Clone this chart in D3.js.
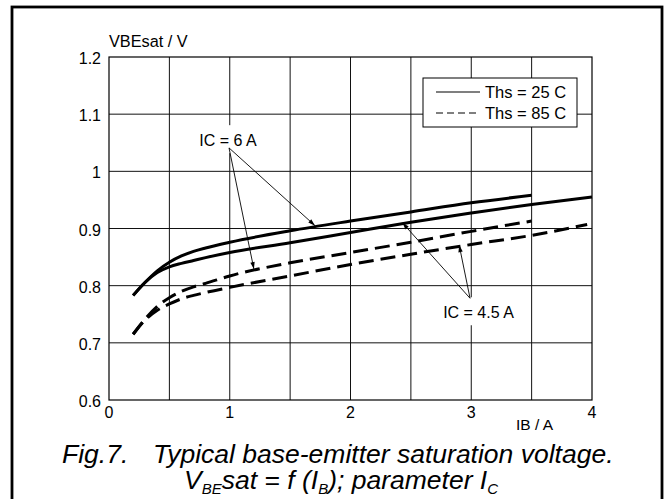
<!DOCTYPE html>
<html><head><meta charset="utf-8">
<script src="https://cdn.jsdelivr.net/npm/d3@7"></script>
<style>
html,body{margin:0;padding:0;background:#fff;}
svg text{font-family:"Liberation Sans",Arial,sans-serif;fill:#000;}
</style></head>
<body>
<svg id="c" width="667" height="499"></svg>
<script>
// ---- data ----
const xTicks = [0, 1, 2, 3, 4];
const yTicks = [0.6, 0.7, 0.8, 0.9, 1.0, 1.1, 1.2];
const yTickLabels = ["0.6", "0.7", "0.8", "0.9", "1", "1.1", "1.2"];
const xGrid = [0.5, 1, 1.5, 2, 2.5, 3, 3.5];
const yGrid = [0.7, 0.8, 0.9, 1.0, 1.1];

// IC = 6 A, Ths = 25 C (solid)
const ib6_25 =  [0.2, 0.3, 0.4, 0.5, 0.6, 0.7, 0.8, 1.0, 1.5, 2.0, 2.5, 3.0, 3.5];
const vbe6_25 = [0.783, 0.806, 0.826, 0.841, 0.852, 0.860, 0.866, 0.876, 0.896, 0.913, 0.929, 0.945, 0.958];
// IC = 4.5 A, Ths = 25 C (solid)
const ib45_25 =  [0.2, 0.3, 0.4, 0.5, 0.6, 0.7, 0.8, 1.0, 1.5, 2.0, 2.5, 3.0, 3.5, 4.0];
const vbe45_25 = [0.783, 0.806, 0.823, 0.833, 0.839, 0.844, 0.849, 0.858, 0.875, 0.893, 0.911, 0.927, 0.942, 0.955];
// IC = 6 A, Ths = 85 C (dashed)
const ib6_85 =  [0.2, 0.3, 0.4, 0.5, 0.6, 0.7, 0.8, 1.0, 1.5, 2.0, 2.5, 3.0, 3.5];
const vbe6_85 = [0.715, 0.742, 0.764, 0.779, 0.790, 0.798, 0.804, 0.817, 0.840, 0.858, 0.876, 0.895, 0.913];
// IC = 4.5 A, Ths = 85 C (dashed)
const ib45_85 =  [0.2, 0.3, 0.4, 0.5, 0.6, 0.7, 0.8, 1.0, 1.5, 2.0, 2.5, 3.0, 3.5, 3.96];
const vbe45_85 = [0.715, 0.740, 0.757, 0.768, 0.777, 0.783, 0.788, 0.797, 0.817, 0.837, 0.855, 0.872, 0.888, 0.907];

const legendLabels = ["Ths = 25 C", "Ths = 85 C"];
const annot6 = {label: "IC = 6 A", text: [0.985, 1.044], origin: [0.994, 1.041], tips: [[1.706, 0.905], [1.20, 0.829]]};
const annot45 = {label: "IC = 4.5 A", text: [3.06, 0.743], origin: [2.99, 0.778], tips: [[2.43, 0.910], [2.90, 0.871]]};

// ---- drawing ----
const svg = d3.select("#c");
const x = d3.scaleLinear().domain([0, 4]).range([109, 592]);
const y = d3.scaleLinear().domain([0.6, 1.2]).range([400, 57]);

// outer frame
svg.append("rect").attr("x", 12).attr("y", 7).attr("width", 650).attr("height", 520)
  .attr("fill", "none").attr("stroke", "#000").attr("stroke-width", 2.8);

// grid
const g = svg.append("g");
g.selectAll(".vg").data(xGrid).join("line")
  .attr("x1", d => x(d)).attr("x2", d => x(d)).attr("y1", y(0.6)).attr("y2", y(1.2))
  .attr("stroke", "#111").attr("stroke-width", 1);
g.selectAll(".hg").data(yGrid).join("line")
  .attr("x1", x(0)).attr("x2", x(4)).attr("y1", d => y(d)).attr("y2", d => y(d))
  .attr("stroke", "#111").attr("stroke-width", 1);
g.append("rect").attr("x", x(0)).attr("y", y(1.2)).attr("width", x(4) - x(0)).attr("height", y(0.6) - y(1.2))
  .attr("fill", "none").attr("stroke", "#000").attr("stroke-width", 1.2);

// axis labels
g.selectAll(".yl").data(yTicks).join("text")
  .attr("x", 101).attr("y", d => y(d) + 7).attr("text-anchor", "end")
  .attr("font-size", 16).text((d, i) => yTickLabels[i]);
g.selectAll(".xl").data(xTicks).join("text")
  .attr("x", d => x(d)).attr("y", 418).attr("text-anchor", "middle")
  .attr("font-size", 16).text(d => d);
svg.append("text").attr("x", 109).attr("y", 47).attr("font-size", 16.3).text("VBEsat / V");
svg.append("text").attr("x", 553).attr("y", 430).attr("text-anchor", "end").attr("font-size", 15.5).text("IB / A");

// curves
const line = d3.line().x(d => x(d[0])).y(d => y(d[1])).curve(d3.curveMonotoneX);
const series = [
  [ib6_25, vbe6_25, null],
  [ib45_25, vbe45_25, null],
  [ib6_85, vbe6_85, "15,7"],
  [ib45_85, vbe45_85, "15,7"]
];
series.forEach(([xs, ys, dash]) => {
  svg.append("path").datum(d3.zip(xs, ys)).attr("d", line)
    .attr("fill", "none").attr("stroke", "#000").attr("stroke-width", 3)
    .attr("stroke-dasharray", dash);
});

// arrow marker
svg.append("defs").append("marker").attr("id", "ah")
  .attr("viewBox", "-8 -4 9 8").attr("refX", 0).attr("refY", 0)
  .attr("markerWidth", 9).attr("markerHeight", 8).attr("markerUnits", "userSpaceOnUse")
  .attr("orient", "auto")
  .append("path").attr("d", "M-7,-2.2 L0,0 L-7,2.2 Z").attr("fill", "#000");

// annotations
function annotate(a, boxW) {
  const tx = x(a.text[0]), ty = y(a.text[1]);
  svg.append("rect").attr("x", tx - boxW / 2).attr("y", ty - 21).attr("width", boxW).attr("height", 28)
    .attr("fill", "#fff");
  svg.append("text").attr("x", tx).attr("y", ty).attr("text-anchor", "middle")
    .attr("font-size", 16).text(a.label);
  a.tips.forEach(t => {
    svg.append("line").attr("x1", x(a.origin[0])).attr("y1", y(a.origin[1]))
      .attr("x2", x(t[0])).attr("y2", y(t[1]))
      .attr("stroke", "#000").attr("stroke-width", 0.9).attr("marker-end", "url(#ah)");
  });
}
annotate(annot6, 66);
annotate(annot45, 82);

// legend
const lg = svg.append("g");
lg.append("rect").attr("x", 423).attr("y", 78).attr("width", 154).attr("height", 49)
  .attr("fill", "#fff").attr("stroke", "#000").attr("stroke-width", 1);
legendLabels.forEach((t, i) => {
  const ly = 92 + i * 21;
  lg.append("line").attr("x1", 436).attr("x2", 480).attr("y1", ly).attr("y2", ly)
    .attr("stroke", "#000").attr("stroke-width", 1.2)
    .attr("stroke-dasharray", i === 1 ? "7,4" : null);
  lg.append("text").attr("x", 485).attr("y", ly + 6).attr("font-size", 16.5).text(t);
});

// caption
const cap = svg.append("g").attr("font-style", "italic");
cap.append("text").attr("x", 62).attr("y", 463).attr("font-size", 26.5).text("Fig.7.");
cap.append("text").attr("x", 153).attr("y", 463).attr("font-size", 26.5).text("Typical base-emitter saturation voltage.");
const l2 = cap.append("text").attr("x", 341).attr("y", 489).attr("text-anchor", "middle").attr("font-size", 26.5);
l2.append("tspan").text("V");
l2.append("tspan").attr("font-size", 15).attr("dy", 5).text("BE");
l2.append("tspan").attr("dy", -5).text("sat = f (I");
l2.append("tspan").attr("font-size", 15).attr("dy", 5).text("B");
l2.append("tspan").attr("dy", -5).text("); parameter I");
l2.append("tspan").attr("font-size", 15).attr("dy", 5).text("C");
</script>
</body></html>
